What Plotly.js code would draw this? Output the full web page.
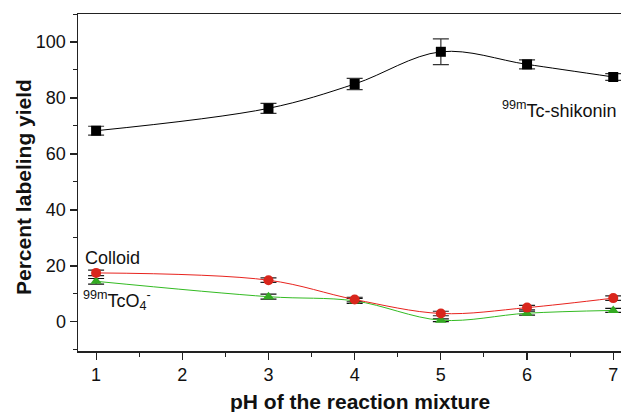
<!DOCTYPE html>
<html><head><meta charset="utf-8">
<script src="https://cdn.plot.ly/plotly-3.0.1.min.js"></script>
<style>body{margin:0;background:#fff}#c{width:621px;height:412px}</style>
</head><body><div id="c"></div>
<script>
var pH = [1, 3, 4, 5, 6, 7];
var shikonin = [68.3, 76.3, 85.0, 96.5, 92.0, 87.5];
var shikoninErr = [1.6, 1.8, 2.0, 4.6, 1.6, 1.2];
var colloid = [17.5, 14.9, 8.0, 3.0, 5.1, 8.5];
var colloidErr = [1.0, 0.8, 0.8, 0.8, 0.8, 0.8];
var pertech = [14.5, 9.0, 7.5, 0.6, 3.1, 4.1];
var pertechErr = [1.0, 0.9, 0.9, 0.5, 0.7, 0.7];
var xTicks = [1, 2, 3, 4, 5, 6, 7];
var yTicks = [0, 20, 40, 60, 80, 100];

var font = "Liberation Sans, Arial, sans-serif";
var traces = [
  {x: pH, y: shikonin, type: 'scatter', mode: 'lines+markers',
   line: {shape: 'spline', smoothing: 1, color: '#000', width: 1},
   marker: {symbol: 'square', size: 10, color: '#000'},
   error_y: {type: 'data', array: shikoninErr, visible: true, color: '#333', thickness: 1.2, width: 8}},
  {x: pH, y: pertech, type: 'scatter', mode: 'lines+markers',
   line: {shape: 'spline', smoothing: 1, color: '#33bb22', width: 1},
   marker: {symbol: 'triangle-up', size: 10, color: '#33aa22'},
   error_y: {type: 'data', array: pertechErr, visible: true, color: '#111', thickness: 1.2, width: 8}},
  {x: pH, y: colloid, type: 'scatter', mode: 'lines+markers',
   line: {shape: 'spline', smoothing: 1, color: '#e8231e', width: 1},
   marker: {symbol: 'circle', size: 10, color: '#d9261c'},
   error_y: {type: 'data', array: colloidErr, visible: true, color: '#222', thickness: 1.2, width: 8}}
];

var layout = {
  width: 621, height: 412,
  margin: {l: 78, r: 0, t: 14, b: 61},
  paper_bgcolor: '#fff', plot_bgcolor: '#fff',
  showlegend: false,
  font: {family: font, color: '#111', size: 18},
  xaxis: {
    range: [0.79, 7.09], tickvals: xTicks, ticktext: xTicks.map(String),
    ticks: 'outside', ticklen: 7, tickwidth: 1.2, tickcolor: '#222',
    minor: {dtick: 0.5, tick0: 0, ticks: 'outside', ticklen: 4, tickwidth: 1, tickcolor: '#222'},
    showline: true, linecolor: '#222', linewidth: 1.5, mirror: true,
    showgrid: false, zeroline: false,
    tickfont: {size: 18, family: font, color: '#111'}
  },
  yaxis: {
    range: [-10.4, 110], tickvals: yTicks,
    ticks: 'outside', ticklen: 7, tickwidth: 1.2, tickcolor: '#222',
    minor: {dtick: 10, tick0: 0, ticks: 'outside', ticklen: 4, tickwidth: 1, tickcolor: '#222'},
    showline: true, linecolor: '#222', linewidth: 1.5,
    showgrid: false, zeroline: false,
    tickfont: {size: 18, family: font, color: '#111'}
  },
  annotations: [
    {x: 282 / 543, y: -50 / 337, xref: 'paper', yref: 'paper', xanchor: 'center', yanchor: 'middle', showarrow: false,
     text: '<b>pH of the reaction mixture</b>', font: {size: 21, family: font, color: '#111'}},
    {x: -55 / 543, y: 164 / 337, xref: 'paper', yref: 'paper', xanchor: 'center', yanchor: 'middle', showarrow: false,
     textangle: -90, text: '<b>Percent labeling yield</b>', font: {size: 21, family: font, color: '#111'}},
    {x: 0.845, y: 22.9, xref: 'x', yref: 'y', xanchor: 'left', yanchor: 'middle', showarrow: false,
     text: 'Colloid', font: {size: 18, family: font, color: '#111'}},
    {x: 0.83, y: 7.5, xref: 'x', yref: 'y', xanchor: 'left', yanchor: 'middle', showarrow: false,
     text: '<sup>99m</sup>TcO<sub>4</sub><sup>-</sup>', font: {size: 18, family: font, color: '#111'}},
    {x: 5.69, y: 75.8, xref: 'x', yref: 'y', xanchor: 'left', yanchor: 'middle', showarrow: false,
     text: '<sup>99m</sup>Tc-shikonin', font: {size: 18, family: font, color: '#111'}}
  ]
};
Plotly.newPlot('c', traces, layout, {displayModeBar: false, staticPlot: true});
</script></body></html>
